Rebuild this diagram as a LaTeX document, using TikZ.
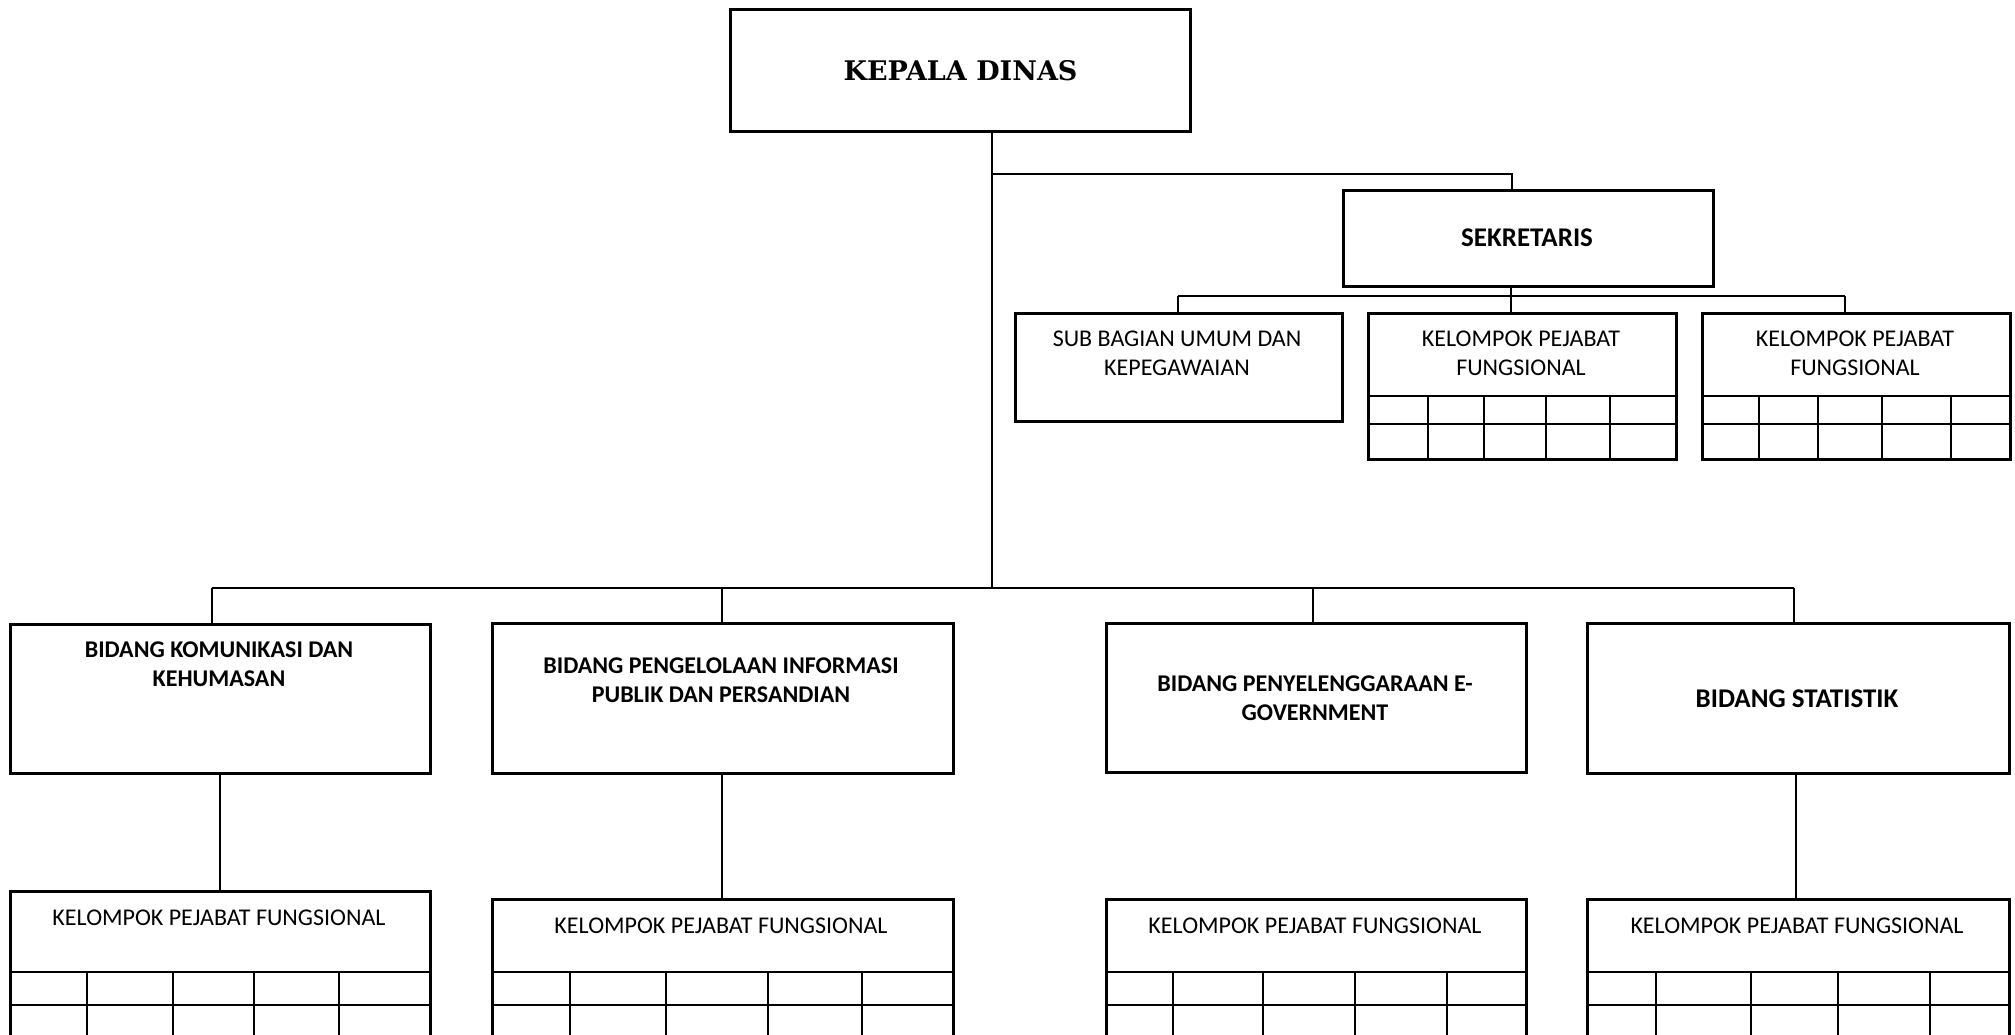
\documentclass[tikz,border=0pt]{standalone}
\usepackage{fontspec}
\setmainfont{Carlito}
\newfontfamily\kepfont{DejaVu Serif}
\begin{document}
\begin{tikzpicture}[x=1pt,y=-1pt,
  box/.style={draw, line width=3.1pt, rectangle, anchor=north west, inner sep=0pt},
  conn/.style={line width=2.9pt},
  gridline/.style={line width=1.6pt},
  reg/.style={font=\fontsize{24}{29}\selectfont, align=center, inner sep=0pt},
  bld/.style={font=\fontsize{24}{29}\selectfont\bfseries, align=center, inner sep=0pt},
  bldbig/.style={font=\fontsize{27}{30}\selectfont\bfseries, align=center, inner sep=0pt}]
\useasboundingbox (0,0) rectangle (2015,1035);
\fill[white] (0,0) rectangle (2015,1035);
\clip (0,0) rectangle (2015,1035);

% ---- top
\node[box, minimum width=460pt, minimum height=122pt, font=\kepfont\fontsize{27}{30}\selectfont\bfseries] (kd) at (729,8) {KEPALA DINAS};

\node[box, minimum width=370pt, minimum height=96pt] (sek) at (1342,189) {};
\node[bldbig] (sekt) at (1527,238) {SEKRETARIS};

\node[box, minimum width=327pt, minimum height=108pt] (sub) at (1014,312) {};
\node[reg] (subt) at (1177,353) {SUB BAGIAN UMUM DAN\\KEPEGAWAIAN};

\node[box, minimum width=308pt, minimum height=146pt] (ks1) at (1367,312) {};
\node[reg] (ks1t) at (1521,353) {KELOMPOK PEJABAT\\FUNGSIONAL};
\node[box, minimum width=308pt, minimum height=146pt] (ks2) at (1701,312) {};
\node[reg] (ks2t) at (1855,353) {KELOMPOK PEJABAT\\FUNGSIONAL};

\foreach \n in {ks1,ks2}{
  \draw[gridline] (\n.west |- 0,396) -- (\n.east |- 0,396);
  \draw[gridline] (\n.west |- 0,424) -- (\n.east |- 0,424);
}
\foreach \x in {1428,1484,1546,1610,1759,1818,1882,1951}{
  \draw[gridline] (\x,396) -- (\x,458);
}

% ---- bidang
\node[box, minimum width=420pt, minimum height=149pt] (b1) at (9,623) {};
\node[bld] (b1t) at (219,664) {BIDANG KOMUNIKASI DAN\\KEHUMASAN};
\node[box, minimum width=461pt, minimum height=150pt] (b2) at (491,622) {};
\node[bld] (b2t) at (721,680) {BIDANG PENGELOLAAN INFORMASI\\PUBLIK DAN PERSANDIAN};
\node[box, minimum width=420pt, minimum height=149pt] (b3) at (1105,622) {};
\node[bld] (b3t) at (1315,698) {BIDANG PENYELENGGARAAN E-\\GOVERNMENT};
\node[box, minimum width=422pt, minimum height=150pt] (b4) at (1586,622) {};
\node[bldbig] (b4t) at (1797,699) {BIDANG STATISTIK};

% ---- bottom kelompok
\node[box, minimum width=420pt, minimum height=180pt] (k1) at (9,890) {};
\node[reg] (k1t) at (219,918) {KELOMPOK PEJABAT FUNGSIONAL};
\node[box, minimum width=461pt, minimum height=172pt] (k2) at (491,898) {};
\node[reg] (k2t) at (721,926) {KELOMPOK PEJABAT FUNGSIONAL};
\node[box, minimum width=420pt, minimum height=172pt] (k3) at (1105,898) {};
\node[reg] (k3t) at (1315,926) {KELOMPOK PEJABAT FUNGSIONAL};
\node[box, minimum width=422pt, minimum height=172pt] (k4) at (1586,898) {};
\node[reg] (k4t) at (1797,926) {KELOMPOK PEJABAT FUNGSIONAL};

\foreach \n in {k1,k2,k3,k4}{
  \draw[gridline] (\n.west |- 0,972) -- (\n.east |- 0,972);
  \draw[gridline] (\n.west |- 0,1005) -- (\n.east |- 0,1005);
}
\foreach \x in {87,173,254,339,570,666,768,862,1173,1263,1355,1447,1656,1751,1838,1930}{
  \draw[gridline] (\x,972) -- (\x,1070);
}

% ---- connectors
\coordinate (m0) at (992,588);
\coordinate (sj) at (992,174);
\coordinate (sekin) at (1512,189);
\draw[conn] (kd.south -| m0) -- (m0);
\draw[conn] (sj) -| (sekin);

\coordinate (sbus) at (1511,296);
\coordinate (sd1) at (1178,296);
\coordinate (sd3) at (1845,296);
\draw[conn] (sek.south -| sbus) -- (sbus);
\draw[conn] (sd1) -- (sd3);
\draw[conn] (sd1) -- (sd1 |- sub.north);
\draw[conn] (sbus) -- (sbus |- ks1.north);
\draw[conn] (sd3) -- (sd3 |- ks2.north);

\coordinate (d1) at (212,588);
\coordinate (d2) at (722,588);
\coordinate (d3) at (1313,588);
\coordinate (d4) at (1794,588);
\draw[conn] (d1) -- (d4);
\draw[conn] (d1) -- (d1 |- b1.north);
\draw[conn] (d2) -- (d2 |- b2.north);
\draw[conn] (d3) -- (d3 |- b3.north);
\draw[conn] (d4) -- (d4 |- b4.north);

\coordinate (e1) at (220,0);
\coordinate (e2) at (722,0);
\coordinate (e4) at (1796,0);
\draw[conn] (e1 |- b1.south) -- (e1 |- k1.north);
\draw[conn] (e2 |- b2.south) -- (e2 |- k2.north);
\draw[conn] (e4 |- b4.south) -- (e4 |- k4.north);
\end{tikzpicture}
\end{document}
